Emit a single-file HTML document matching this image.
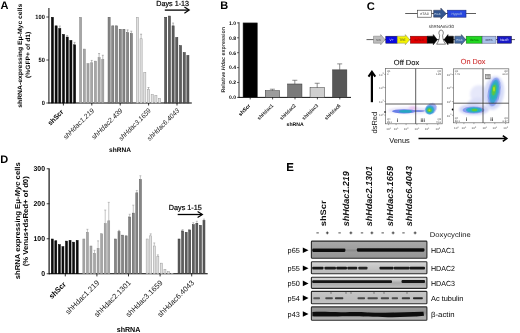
<!DOCTYPE html>
<html><head><meta charset="utf-8"><style>
html,body{margin:0;padding:0;background:#fff;}
svg{display:block;will-change:transform;}
svg text{font-family:"Liberation Sans", sans-serif;text-rendering:geometricPrecision;}
</style></head><body>
<svg width="520" height="333" viewBox="0 0 520 333" font-family="Liberation Sans, sans-serif">
<rect x="0" y="0" width="520" height="333" fill="#fff"/>
<text x="0.60" y="8.90" font-size="11" fill="#000" font-weight="bold" font-style="normal" text-anchor="start" >A</text>
<g transform="translate(21.80,55.80) rotate(-90)"><text x="0" y="0" font-size="6.3" fill="#000" font-weight="bold" font-style="normal" text-anchor="middle" textLength="104" lengthAdjust="spacingAndGlyphs">shRNA-expressing Eμ-Myc cells</text></g>
<g transform="translate(30.00,54.90) rotate(-90)"><text x="0" y="0" font-size="6.3" fill="#000" font-weight="bold" font-style="normal" text-anchor="middle" textLength="46.3" lengthAdjust="spacingAndGlyphs">(%GFP+ of d1)</text></g>
<line x1="48.90" y1="8.00" x2="48.90" y2="103.50" stroke="#222" stroke-width="1.1" />
<line x1="48.50" y1="103.00" x2="191.80" y2="103.00" stroke="#000" stroke-width="1.15" />
<line x1="46.30" y1="17.00" x2="49.00" y2="17.00" stroke="#222" stroke-width="0.8" />
<text x="44.80" y="19.20" font-size="6.2" fill="#000" font-weight="bold" font-style="normal" text-anchor="end"  textLength="9.45" lengthAdjust="spacingAndGlyphs">100</text>
<line x1="46.30" y1="60.00" x2="49.00" y2="60.00" stroke="#222" stroke-width="0.8" />
<text x="44.80" y="62.20" font-size="6.2" fill="#000" font-weight="bold" font-style="normal" text-anchor="end"  textLength="6.3" lengthAdjust="spacingAndGlyphs">50</text>
<line x1="46.30" y1="103.00" x2="49.00" y2="103.00" stroke="#222" stroke-width="0.8" />
<text x="44.80" y="105.20" font-size="6.2" fill="#000" font-weight="bold" font-style="normal" text-anchor="end"  textLength="3.15" lengthAdjust="spacingAndGlyphs">0</text>
<rect x="51.35" y="17.25" width="2.10" height="85.75" fill="#0c0c0c" stroke="#000" stroke-width="0.5"/>
<rect x="55.05" y="25.85" width="2.10" height="77.15" fill="#0c0c0c" stroke="#000" stroke-width="0.5"/>
<rect x="58.75" y="28.43" width="2.10" height="74.57" fill="#0c0c0c" stroke="#000" stroke-width="0.5"/>
<line x1="59.80" y1="26.03" x2="59.80" y2="28.18" stroke="#777" stroke-width="0.5" />
<line x1="58.80" y1="26.03" x2="60.80" y2="26.03" stroke="#777" stroke-width="0.5" />
<rect x="62.45" y="34.45" width="2.10" height="68.55" fill="#0c0c0c" stroke="#000" stroke-width="0.5"/>
<rect x="66.15" y="37.03" width="2.10" height="65.97" fill="#0c0c0c" stroke="#000" stroke-width="0.5"/>
<line x1="67.20" y1="35.49" x2="67.20" y2="36.78" stroke="#777" stroke-width="0.5" />
<line x1="66.20" y1="35.49" x2="68.20" y2="35.49" stroke="#777" stroke-width="0.5" />
<rect x="69.85" y="40.47" width="2.10" height="62.53" fill="#0c0c0c" stroke="#000" stroke-width="0.5"/>
<rect x="73.55" y="44.77" width="2.10" height="58.23" fill="#0c0c0c" stroke="#000" stroke-width="0.5"/>
<line x1="74.60" y1="42.37" x2="74.60" y2="44.52" stroke="#777" stroke-width="0.5" />
<line x1="73.60" y1="42.37" x2="75.60" y2="42.37" stroke="#777" stroke-width="0.5" />
<rect x="79.55" y="17.25" width="2.10" height="85.75" fill="#a6a6a6" stroke="#888" stroke-width="0.5"/>
<rect x="83.25" y="49.07" width="2.10" height="53.93" fill="#a6a6a6" stroke="#888" stroke-width="0.5"/>
<rect x="86.95" y="63.69" width="2.10" height="39.31" fill="#a6a6a6" stroke="#888" stroke-width="0.5"/>
<rect x="90.65" y="62.83" width="2.10" height="40.17" fill="#a6a6a6" stroke="#888" stroke-width="0.5"/>
<line x1="91.70" y1="60.43" x2="91.70" y2="62.58" stroke="#777" stroke-width="0.5" />
<line x1="90.70" y1="60.43" x2="92.70" y2="60.43" stroke="#777" stroke-width="0.5" />
<rect x="94.35" y="61.11" width="2.10" height="41.89" fill="#a6a6a6" stroke="#888" stroke-width="0.5"/>
<rect x="98.05" y="57.67" width="2.10" height="45.33" fill="#a6a6a6" stroke="#888" stroke-width="0.5"/>
<line x1="99.10" y1="53.55" x2="99.10" y2="57.42" stroke="#777" stroke-width="0.5" />
<line x1="98.10" y1="53.55" x2="100.10" y2="53.55" stroke="#777" stroke-width="0.5" />
<rect x="101.75" y="59.39" width="2.10" height="43.61" fill="#a6a6a6" stroke="#888" stroke-width="0.5"/>
<line x1="102.80" y1="55.27" x2="102.80" y2="59.14" stroke="#777" stroke-width="0.5" />
<line x1="101.80" y1="55.27" x2="103.80" y2="55.27" stroke="#777" stroke-width="0.5" />
<rect x="108.05" y="17.25" width="2.10" height="85.75" fill="#888888" stroke="#585858" stroke-width="0.5"/>
<rect x="111.75" y="25.85" width="2.10" height="77.15" fill="#888888" stroke="#585858" stroke-width="0.5"/>
<rect x="115.45" y="25.85" width="2.10" height="77.15" fill="#888888" stroke="#585858" stroke-width="0.5"/>
<rect x="119.15" y="29.29" width="2.10" height="73.71" fill="#888888" stroke="#585858" stroke-width="0.5"/>
<rect x="122.85" y="29.29" width="2.10" height="73.71" fill="#888888" stroke="#585858" stroke-width="0.5"/>
<rect x="126.55" y="32.73" width="2.10" height="70.27" fill="#888888" stroke="#585858" stroke-width="0.5"/>
<line x1="127.60" y1="29.90" x2="127.60" y2="32.48" stroke="#777" stroke-width="0.5" />
<line x1="126.60" y1="29.90" x2="128.60" y2="29.90" stroke="#777" stroke-width="0.5" />
<rect x="130.25" y="33.59" width="2.10" height="69.41" fill="#888888" stroke="#585858" stroke-width="0.5"/>
<line x1="131.30" y1="31.19" x2="131.30" y2="33.34" stroke="#777" stroke-width="0.5" />
<line x1="130.30" y1="31.19" x2="132.30" y2="31.19" stroke="#777" stroke-width="0.5" />
<rect x="136.35" y="17.25" width="2.10" height="85.75" fill="#e0e0e0" stroke="#9a9a9a" stroke-width="0.5"/>
<rect x="140.05" y="38.75" width="2.10" height="64.25" fill="#e0e0e0" stroke="#9a9a9a" stroke-width="0.5"/>
<line x1="141.10" y1="34.20" x2="141.10" y2="38.50" stroke="#777" stroke-width="0.5" />
<line x1="140.10" y1="34.20" x2="142.10" y2="34.20" stroke="#777" stroke-width="0.5" />
<rect x="143.75" y="72.29" width="2.10" height="30.71" fill="#e0e0e0" stroke="#9a9a9a" stroke-width="0.5"/>
<rect x="147.45" y="89.49" width="2.10" height="13.51" fill="#e0e0e0" stroke="#9a9a9a" stroke-width="0.5"/>
<line x1="148.50" y1="87.52" x2="148.50" y2="89.24" stroke="#777" stroke-width="0.5" />
<line x1="147.50" y1="87.52" x2="149.50" y2="87.52" stroke="#777" stroke-width="0.5" />
<rect x="151.15" y="94.65" width="2.10" height="8.35" fill="#e0e0e0" stroke="#9a9a9a" stroke-width="0.5"/>
<rect x="154.85" y="95.51" width="2.10" height="7.49" fill="#e0e0e0" stroke="#9a9a9a" stroke-width="0.5"/>
<rect x="158.55" y="98.35" width="2.10" height="4.65" fill="#e0e0e0" stroke="#9a9a9a" stroke-width="0.5"/>
<rect x="164.65" y="17.25" width="2.10" height="85.75" fill="#5e5e5e" stroke="#333" stroke-width="0.5"/>
<rect x="168.35" y="16.05" width="2.10" height="86.95" fill="#5e5e5e" stroke="#333" stroke-width="0.5"/>
<rect x="172.05" y="25.85" width="2.10" height="77.15" fill="#5e5e5e" stroke="#333" stroke-width="0.5"/>
<line x1="173.10" y1="23.02" x2="173.10" y2="25.60" stroke="#777" stroke-width="0.5" />
<line x1="172.10" y1="23.02" x2="174.10" y2="23.02" stroke="#777" stroke-width="0.5" />
<rect x="175.75" y="37.46" width="2.10" height="65.54" fill="#5e5e5e" stroke="#333" stroke-width="0.5"/>
<rect x="179.45" y="45.63" width="2.10" height="57.37" fill="#5e5e5e" stroke="#333" stroke-width="0.5"/>
<rect x="183.15" y="52.51" width="2.10" height="50.49" fill="#5e5e5e" stroke="#333" stroke-width="0.5"/>
<rect x="186.85" y="55.43" width="2.10" height="47.57" fill="#5e5e5e" stroke="#333" stroke-width="0.5"/>
<line x1="63.40" y1="103.00" x2="63.40" y2="105.50" stroke="#000" stroke-width="0.8" />
<g transform="translate(63.90,112.50) rotate(-45)"><text x="0" y="0" font-size="7" fill="#000" font-weight="bold" font-style="normal" text-anchor="end" textLength="18.8" lengthAdjust="spacingAndGlyphs">shScr</text></g>
<line x1="91.80" y1="103.00" x2="91.80" y2="105.50" stroke="#000" stroke-width="0.8" />
<g transform="translate(94.60,111.20) rotate(-45)"><text x="0" y="0" font-size="7" fill="#222" font-weight="normal" font-style="italic" text-anchor="end" textLength="40.5" lengthAdjust="spacingAndGlyphs">shHdac1.219</text></g>
<line x1="120.20" y1="103.00" x2="120.20" y2="105.50" stroke="#000" stroke-width="0.8" />
<g transform="translate(123.00,111.20) rotate(-45)"><text x="0" y="0" font-size="7" fill="#222" font-weight="normal" font-style="italic" text-anchor="end" textLength="40.5" lengthAdjust="spacingAndGlyphs">shHdac2.439</text></g>
<line x1="148.60" y1="103.00" x2="148.60" y2="105.50" stroke="#000" stroke-width="0.8" />
<g transform="translate(151.40,111.20) rotate(-45)"><text x="0" y="0" font-size="7" fill="#222" font-weight="normal" font-style="italic" text-anchor="end" textLength="42.4" lengthAdjust="spacingAndGlyphs">shHdac3.1659</text></g>
<line x1="177.00" y1="103.00" x2="177.00" y2="105.50" stroke="#000" stroke-width="0.8" />
<g transform="translate(179.80,111.20) rotate(-45)"><text x="0" y="0" font-size="7" fill="#222" font-weight="normal" font-style="italic" text-anchor="end" textLength="42.4" lengthAdjust="spacingAndGlyphs">shHdac6.4043</text></g>
<text x="120.05" y="152.00" font-size="6.6" fill="#000" font-weight="bold" font-style="normal" text-anchor="middle"  textLength="21.9" lengthAdjust="spacingAndGlyphs">shRNA</text>
<text x="156.30" y="5.90" font-size="7.4" fill="#000" font-weight="normal" font-style="normal" text-anchor="start" stroke="#000" stroke-width="0.2" textLength="32.8" lengthAdjust="spacingAndGlyphs">Days 1-13</text>
<line x1="164.80" y1="10.10" x2="188.60" y2="10.10" stroke="#000" stroke-width="1.3" />
<polyline points="184.4,7.0 189.2,10.1 184.4,13.2" fill="none" stroke="#000" stroke-width="1.2"/>
<text x="220.30" y="9.10" font-size="11" fill="#000" font-weight="bold" font-style="normal" text-anchor="start" >B</text>
<g transform="translate(224.60,59.70) rotate(-90)"><text x="0" y="0" font-size="5.4" fill="#333" font-weight="bold" font-style="normal" text-anchor="middle" textLength="65.8" lengthAdjust="spacingAndGlyphs">Relative <tspan font-style="italic">Hdac</tspan> expression</text></g>
<line x1="239.00" y1="22.20" x2="239.00" y2="97.90" stroke="#333" stroke-width="1" />
<line x1="238.50" y1="97.40" x2="351.00" y2="97.40" stroke="#111" stroke-width="1" />
<line x1="237.00" y1="22.90" x2="239.00" y2="22.90" stroke="#222" stroke-width="0.7" />
<text x="236.10" y="24.70" font-size="5.1" fill="#000" font-weight="bold" font-style="normal" text-anchor="end"  textLength="7.0" lengthAdjust="spacingAndGlyphs">1.0</text>
<line x1="237.00" y1="37.80" x2="239.00" y2="37.80" stroke="#222" stroke-width="0.7" />
<text x="236.10" y="39.60" font-size="5.1" fill="#000" font-weight="bold" font-style="normal" text-anchor="end"  textLength="7.0" lengthAdjust="spacingAndGlyphs">0.8</text>
<line x1="237.00" y1="52.70" x2="239.00" y2="52.70" stroke="#222" stroke-width="0.7" />
<text x="236.10" y="54.50" font-size="5.1" fill="#000" font-weight="bold" font-style="normal" text-anchor="end"  textLength="7.0" lengthAdjust="spacingAndGlyphs">0.6</text>
<line x1="237.00" y1="67.60" x2="239.00" y2="67.60" stroke="#222" stroke-width="0.7" />
<text x="236.10" y="69.40" font-size="5.1" fill="#000" font-weight="bold" font-style="normal" text-anchor="end"  textLength="7.0" lengthAdjust="spacingAndGlyphs">0.4</text>
<line x1="237.00" y1="82.50" x2="239.00" y2="82.50" stroke="#222" stroke-width="0.7" />
<text x="236.10" y="84.30" font-size="5.1" fill="#000" font-weight="bold" font-style="normal" text-anchor="end"  textLength="7.0" lengthAdjust="spacingAndGlyphs">0.2</text>
<line x1="237.00" y1="97.40" x2="239.00" y2="97.40" stroke="#222" stroke-width="0.7" />
<text x="236.10" y="99.20" font-size="5.1" fill="#000" font-weight="bold" font-style="normal" text-anchor="end"  textLength="7.0" lengthAdjust="spacingAndGlyphs">0.0</text>
<rect x="243.05" y="22.90" width="14.30" height="74.50" fill="#000" stroke="#333" stroke-width="0.5"/>
<rect x="265.25" y="90.70" width="14.30" height="6.70" fill="#9c9c9c" stroke="#333" stroke-width="0.5"/>
<line x1="272.40" y1="89.21" x2="272.40" y2="90.70" stroke="#444" stroke-width="0.6" />
<line x1="269.90" y1="89.21" x2="274.90" y2="89.21" stroke="#444" stroke-width="0.6" />
<rect x="287.65" y="83.99" width="14.30" height="13.41" fill="#7a7a7a" stroke="#333" stroke-width="0.5"/>
<line x1="294.80" y1="80.27" x2="294.80" y2="83.99" stroke="#444" stroke-width="0.6" />
<line x1="292.30" y1="80.27" x2="297.30" y2="80.27" stroke="#444" stroke-width="0.6" />
<rect x="310.05" y="87.72" width="14.30" height="9.69" fill="#cfcfcf" stroke="#333" stroke-width="0.5"/>
<line x1="317.20" y1="83.25" x2="317.20" y2="87.72" stroke="#444" stroke-width="0.6" />
<line x1="314.70" y1="83.25" x2="319.70" y2="83.25" stroke="#444" stroke-width="0.6" />
<rect x="332.55" y="69.84" width="14.30" height="27.56" fill="#575757" stroke="#333" stroke-width="0.5"/>
<line x1="339.70" y1="63.88" x2="339.70" y2="69.84" stroke="#444" stroke-width="0.6" />
<line x1="337.20" y1="63.88" x2="342.20" y2="63.88" stroke="#444" stroke-width="0.6" />
<line x1="250.20" y1="97.40" x2="250.20" y2="99.40" stroke="#000" stroke-width="0.7" />
<g transform="translate(250.80,106.00) rotate(-45)"><text x="0" y="0" font-size="5.2" fill="#000" font-weight="bold" font-style="normal" text-anchor="end" textLength="14.7" lengthAdjust="spacingAndGlyphs">shScr</text></g>
<line x1="272.60" y1="97.40" x2="272.60" y2="99.40" stroke="#000" stroke-width="0.7" />
<g transform="translate(273.80,106.00) rotate(-45)"><text x="0" y="0" font-size="5.3" fill="#333" font-weight="bold" font-style="normal" text-anchor="end" textLength="20.5" lengthAdjust="spacingAndGlyphs">shHdac1</text></g>
<line x1="295.00" y1="97.40" x2="295.00" y2="99.40" stroke="#000" stroke-width="0.7" />
<g transform="translate(296.20,106.00) rotate(-45)"><text x="0" y="0" font-size="5.3" fill="#333" font-weight="bold" font-style="normal" text-anchor="end" textLength="20.5" lengthAdjust="spacingAndGlyphs">shHdac2</text></g>
<line x1="317.40" y1="97.40" x2="317.40" y2="99.40" stroke="#000" stroke-width="0.7" />
<g transform="translate(318.60,106.00) rotate(-45)"><text x="0" y="0" font-size="5.3" fill="#333" font-weight="bold" font-style="normal" text-anchor="end" textLength="20.5" lengthAdjust="spacingAndGlyphs">shHdac3</text></g>
<line x1="339.80" y1="97.40" x2="339.80" y2="99.40" stroke="#000" stroke-width="0.7" />
<g transform="translate(341.00,106.00) rotate(-45)"><text x="0" y="0" font-size="5.3" fill="#333" font-weight="bold" font-style="normal" text-anchor="end" textLength="20.5" lengthAdjust="spacingAndGlyphs">shHdac6</text></g>
<text x="295.15" y="126.30" font-size="5.1" fill="#000" font-weight="bold" font-style="normal" text-anchor="middle"  textLength="17.1" lengthAdjust="spacingAndGlyphs">shRNA</text>
<text x="366.80" y="9.60" font-size="11.2" fill="#000" font-weight="bold" font-style="normal" text-anchor="start" >C</text>
<line x1="405.20" y1="13.50" x2="476.00" y2="13.50" stroke="#333" stroke-width="0.8" />
<rect x="417.30" y="10.20" width="14.20" height="7.00" fill="#fff" stroke="#333" stroke-width="0.6"/>
<text x="424.40" y="15.10" font-size="3.6" fill="#333" font-weight="normal" font-style="normal" text-anchor="middle" >rtTA3</text>
<polygon points="433.6,10.2 440.8,10.2 440.8,8.0 446.4,13.7 440.8,19.2 440.8,17.2 433.6,17.2" fill="#33558f" stroke="#223" stroke-width="0.4"/>
<text x="437.50" y="15.00" font-size="3" fill="#cde" font-weight="normal" font-style="normal" text-anchor="middle" >PGK</text>
<rect x="447.60" y="10.20" width="18.40" height="7.00" fill="#2848e0" stroke="#1a2a80" stroke-width="0.6"/>
<text x="456.80" y="15.10" font-size="3.2" fill="#bcd" font-weight="normal" font-style="normal" text-anchor="middle" >HygroR</text>
<line x1="366.50" y1="39.60" x2="515.00" y2="39.60" stroke="#333" stroke-width="0.8" />
<polygon points="373.5,36.2 380.7,36.2 380.7,34.6 385.2,39.7 380.7,44.800000000000004 380.7,43.2 373.5,43.2" fill="#bdbdbd" stroke="#777" stroke-width="0.5"/>
<text x="378.50" y="41.00" font-size="3" fill="#555" font-weight="normal" font-style="normal" text-anchor="middle" >SIN</text>
<rect x="385.80" y="36.20" width="11.50" height="7.00" fill="#0a0ae0" stroke="#113" stroke-width="0.5"/>
<text x="391.50" y="41.00" font-size="3.2" fill="#eef" font-weight="normal" font-style="normal" text-anchor="middle" >V+</text>
<polygon points="397.3,36.2 405.3,36.2 405.3,34.6 409.8,39.7 405.3,44.800000000000004 405.3,43.2 397.3,43.2" fill="#f4f400" stroke="#886" stroke-width="0.5"/>
<text x="402.50" y="41.00" font-size="3.2" fill="#443" font-weight="normal" font-style="normal" text-anchor="middle" >TRE</text>
<rect x="410.40" y="36.20" width="16.90" height="7.00" fill="#e00000" stroke="#600" stroke-width="0.5"/>
<text x="418.80" y="41.00" font-size="3.2" fill="#800" font-weight="normal" font-style="normal" text-anchor="middle" >dsRed</text>
<path d="M436.6,44.2 C438.6,41.5 439.6,38.5 439.6,35.2 C438.3,33.6 438.7,30.0 441.1,30.0 C443.5,30.0 443.9,33.6 442.6,35.2 C442.6,38.5 443.6,41.5 445.6,44.2 Z" fill="#fff" stroke="#222" stroke-width="0.55"/>
<polygon points="427.3,36.2 433.3,36.2 433.3,34.6 437.3,39.7 433.3,44.800000000000004 433.3,43.2 427.3,43.2" fill="#050505" stroke="#000" stroke-width="0.5"/>
<polygon points="453.4,36.2 448.0,36.2 448.0,34.6 444.0,39.7 448.0,44.800000000000004 448.0,43.2 453.4,43.2" fill="#050505" stroke="#000" stroke-width="0.5"/>
<text x="441.40" y="27.80" font-size="4.5" fill="#222" font-weight="normal" font-style="normal" text-anchor="middle"  textLength="25.2" lengthAdjust="spacingAndGlyphs">shRNAmir30</text>
<polygon points="454.8,36.2 461.4,36.2 461.4,34.6 465.9,39.7 461.4,44.800000000000004 461.4,43.2 454.8,43.2" fill="#4a6fa8" stroke="#234" stroke-width="0.5"/>
<text x="459.50" y="41.00" font-size="3" fill="#cde" font-weight="normal" font-style="normal" text-anchor="middle" >PGK</text>
<rect x="466.20" y="36.20" width="15.90" height="7.00" fill="#22d822" stroke="#161" stroke-width="0.5"/>
<text x="474.10" y="41.00" font-size="3.2" fill="#060" font-weight="normal" font-style="normal" text-anchor="middle" >Venus</text>
<rect x="482.10" y="36.20" width="13.90" height="7.00" fill="#a8c0e8" stroke="#557" stroke-width="0.5"/>
<text x="489.00" y="41.00" font-size="3" fill="#335" font-weight="normal" font-style="normal" text-anchor="middle" >IRES</text>
<rect x="497.30" y="36.20" width="14.20" height="7.00" fill="#1818c8" stroke="#113" stroke-width="0.5"/>
<text x="504.40" y="41.00" font-size="3.2" fill="#eef" font-weight="normal" font-style="normal" text-anchor="middle" >NeoR</text>
<text x="406.50" y="65.20" font-size="7.3" fill="#111" font-weight="normal" font-style="normal" text-anchor="middle" stroke="#111" stroke-width="0.12" textLength="25.3" lengthAdjust="spacingAndGlyphs">Off Dox</text>
<text x="473.10" y="64.40" font-size="7.3" fill="#d03434" font-weight="normal" font-style="normal" text-anchor="middle" stroke="#d03434" stroke-width="0.12" textLength="24.6" lengthAdjust="spacingAndGlyphs">On Dox</text>
<defs>
<filter id="bl1" x="-50%" y="-50%" width="200%" height="200%"><feGaussianBlur stdDeviation="1.2"/></filter>
<filter id="bl2" x="-50%" y="-50%" width="200%" height="200%"><feGaussianBlur stdDeviation="0.7"/></filter>
<filter id="bl3" x="-50%" y="-50%" width="200%" height="200%"><feGaussianBlur stdDeviation="0.5"/></filter>
<filter id="bl4" x="-50%" y="-50%" width="200%" height="200%"><feGaussianBlur stdDeviation="0.35"/></filter>
</defs>
<ellipse cx="410" cy="110.5" rx="22" ry="3.2" fill="#e4e0f8" opacity="1" filter="url(#bl1)"/>
<ellipse cx="413" cy="108.2" rx="4" ry="2" fill="#ecc4f0" opacity="1" filter="url(#bl1)"/>
<ellipse cx="404" cy="111.3" rx="12" ry="2.1" fill="#6a80e8" opacity="1" filter="url(#bl2)"/>
<ellipse cx="418" cy="111" rx="7" ry="0.9" fill="#7c8ce4" opacity="1" filter="url(#bl3)"/>
<ellipse cx="405.5" cy="111.4" rx="6.5" ry="1.45" fill="#26a6c2" opacity="1" filter="url(#bl3)"/>
<ellipse cx="431" cy="108.8" rx="6.2" ry="5.0" fill="#a0acf0" opacity="1" filter="url(#bl2)" transform="rotate(-40 431 108.8)"/>
<ellipse cx="429.9" cy="109.9" rx="4.6" ry="4.3" fill="#3aa0d8" opacity="1" filter="url(#bl3)" transform="rotate(-30 429.9 109.9)"/>
<ellipse cx="429.6" cy="110.1" rx="3.3" ry="3.0" fill="#2ab4b0" opacity="1" filter="url(#bl3)"/>
<ellipse cx="429.5" cy="110.2" rx="2.1" ry="1.9" fill="#60c83a" opacity="1" filter="url(#bl3)"/>
<ellipse cx="429.4" cy="110.2" rx="0.9" ry="0.8" fill="#c0e020" opacity="1" filter="url(#bl4)"/>
<circle cx="385.2" cy="112" r="0.9" fill="#000"/>
<rect x="385.6" y="68.6" width="56.599999999999966" height="55.2" fill="none" stroke="#666" stroke-width="0.7"/>
<line x1="415.70" y1="68.60" x2="415.70" y2="123.80" stroke="#333" stroke-width="0.8" />
<line x1="385.60" y1="104.00" x2="442.20" y2="104.00" stroke="#333" stroke-width="0.8" />
<line x1="384.30" y1="74.40" x2="385.60" y2="74.40" stroke="#555" stroke-width="0.5" />
<text x="383.60" y="75.60" font-size="3" fill="#555" font-weight="normal" font-style="normal" text-anchor="end" >10<tspan font-size="2.2" dy="-1.2">3</tspan></text>
<line x1="384.30" y1="87.60" x2="385.60" y2="87.60" stroke="#555" stroke-width="0.5" />
<text x="383.60" y="88.80" font-size="3" fill="#555" font-weight="normal" font-style="normal" text-anchor="end" >10<tspan font-size="2.2" dy="-1.2">2</tspan></text>
<line x1="384.30" y1="101.40" x2="385.60" y2="101.40" stroke="#555" stroke-width="0.5" />
<text x="383.60" y="102.60" font-size="3" fill="#555" font-weight="normal" font-style="normal" text-anchor="end" >10<tspan font-size="2.2" dy="-1.2">1</tspan></text>
<line x1="384.30" y1="115.10" x2="385.60" y2="115.10" stroke="#555" stroke-width="0.5" />
<text x="383.60" y="116.30" font-size="3" fill="#555" font-weight="normal" font-style="normal" text-anchor="end" >10<tspan font-size="2.2" dy="-1.2">0</tspan></text>
<line x1="388.60" y1="123.80" x2="388.60" y2="125.10" stroke="#555" stroke-width="0.5" />
<text x="388.60" y="130.40" font-size="3" fill="#555" font-weight="normal" font-style="normal" text-anchor="middle" >10<tspan font-size="2.2" dy="-1.2">0</tspan></text>
<line x1="396.10" y1="123.80" x2="396.10" y2="125.10" stroke="#555" stroke-width="0.5" />
<text x="396.10" y="130.40" font-size="3" fill="#555" font-weight="normal" font-style="normal" text-anchor="middle" >10<tspan font-size="2.2" dy="-1.2">1</tspan></text>
<line x1="406.10" y1="123.80" x2="406.10" y2="125.10" stroke="#555" stroke-width="0.5" />
<text x="406.10" y="130.40" font-size="3" fill="#555" font-weight="normal" font-style="normal" text-anchor="middle" >10<tspan font-size="2.2" dy="-1.2">2</tspan></text>
<line x1="416.90" y1="123.80" x2="416.90" y2="125.10" stroke="#555" stroke-width="0.5" />
<text x="416.90" y="130.40" font-size="3" fill="#555" font-weight="normal" font-style="normal" text-anchor="middle" >10<tspan font-size="2.2" dy="-1.2">0</tspan></text>
<line x1="427.00" y1="123.80" x2="427.00" y2="125.10" stroke="#555" stroke-width="0.5" />
<text x="427.00" y="130.40" font-size="3" fill="#555" font-weight="normal" font-style="normal" text-anchor="middle" >10<tspan font-size="2.2" dy="-1.2">1</tspan></text>
<line x1="437.80" y1="123.80" x2="437.80" y2="125.10" stroke="#555" stroke-width="0.5" />
<text x="437.80" y="130.40" font-size="3" fill="#555" font-weight="normal" font-style="normal" text-anchor="middle" >10<tspan font-size="2.2" dy="-1.2">2</tspan></text>
<text x="387.00" y="72.00" font-size="2.6" fill="#444" font-weight="normal" font-style="normal" text-anchor="start" >Q1</text>
<text x="387.00" y="75.20" font-size="2.6" fill="#444" font-weight="normal" font-style="normal" text-anchor="start" >0</text>
<text x="441.00" y="72.00" font-size="2.6" fill="#444" font-weight="normal" font-style="normal" text-anchor="end" >Q2</text>
<text x="441.00" y="75.20" font-size="2.6" fill="#444" font-weight="normal" font-style="normal" text-anchor="end" >1.25</text>
<text x="387.00" y="119.60" font-size="2.6" fill="#444" font-weight="normal" font-style="normal" text-anchor="start" >Q4</text>
<text x="387.00" y="122.60" font-size="2.6" fill="#444" font-weight="normal" font-style="normal" text-anchor="start" >28.1</text>
<text x="441.00" y="119.60" font-size="2.6" fill="#444" font-weight="normal" font-style="normal" text-anchor="end" >Q3</text>
<text x="441.00" y="122.60" font-size="2.6" fill="#444" font-weight="normal" font-style="normal" text-anchor="end" >70.6</text>
<ellipse cx="479" cy="94" rx="9" ry="9" fill="#e6e8fa" opacity="1" filter="url(#bl1)" transform="rotate(-30 479 94)"/>
<ellipse cx="475" cy="102" rx="8" ry="4" fill="#dde0f8" opacity="1" filter="url(#bl1)" transform="rotate(-20 475 102)"/>
<ellipse cx="494" cy="93" rx="10" ry="17" fill="#d4daf8" opacity="1" filter="url(#bl1)" transform="rotate(8 494 93)"/>
<ellipse cx="474" cy="109.5" rx="15" ry="5.5" fill="#d0d4f6" opacity="1" filter="url(#bl1)"/>
<ellipse cx="494.2" cy="92" rx="6.2" ry="14.5" fill="#8ea0ee" opacity="1" filter="url(#bl2)" transform="rotate(10 494.2 92)"/>
<ellipse cx="494.2" cy="91.5" rx="4.6" ry="12" fill="#3aa4d4" opacity="1" filter="url(#bl2)" transform="rotate(10 494.2 91.5)"/>
<ellipse cx="494.2" cy="91" rx="3.2" ry="9" fill="#2ab4b0" opacity="1" filter="url(#bl3)" transform="rotate(10 494.2 91)"/>
<ellipse cx="494" cy="90" rx="2.0" ry="5.5" fill="#5cc83c" opacity="1" filter="url(#bl3)" transform="rotate(8 494 90)"/>
<ellipse cx="494" cy="89" rx="0.9" ry="2.5" fill="#b8e020" opacity="1" filter="url(#bl4)"/>
<ellipse cx="473.5" cy="110" rx="11" ry="3.6" fill="#8c9cee" opacity="1" filter="url(#bl2)"/>
<ellipse cx="474" cy="110" rx="8" ry="2.7" fill="#32a8cc" opacity="1" filter="url(#bl3)"/>
<ellipse cx="474.2" cy="110" rx="5" ry="1.9" fill="#2ab4b0" opacity="1" filter="url(#bl3)"/>
<ellipse cx="474.5" cy="110" rx="2.8" ry="1.3" fill="#5cc83c" opacity="1" filter="url(#bl3)"/>
<circle cx="452.6" cy="109.5" r="0.9" fill="#000"/>
<rect x="453.4" y="68.8" width="55.400000000000034" height="54.0" fill="none" stroke="#666" stroke-width="0.7"/>
<line x1="483.00" y1="68.80" x2="483.00" y2="122.80" stroke="#333" stroke-width="0.8" />
<line x1="453.40" y1="103.20" x2="508.80" y2="103.20" stroke="#333" stroke-width="0.8" />
<line x1="452.10" y1="74.60" x2="453.40" y2="74.60" stroke="#555" stroke-width="0.5" />
<text x="451.40" y="75.80" font-size="3" fill="#555" font-weight="normal" font-style="normal" text-anchor="end" >10<tspan font-size="2.2" dy="-1.2">3</tspan></text>
<line x1="452.10" y1="87.80" x2="453.40" y2="87.80" stroke="#555" stroke-width="0.5" />
<text x="451.40" y="89.00" font-size="3" fill="#555" font-weight="normal" font-style="normal" text-anchor="end" >10<tspan font-size="2.2" dy="-1.2">2</tspan></text>
<line x1="452.10" y1="101.60" x2="453.40" y2="101.60" stroke="#555" stroke-width="0.5" />
<text x="451.40" y="102.80" font-size="3" fill="#555" font-weight="normal" font-style="normal" text-anchor="end" >10<tspan font-size="2.2" dy="-1.2">1</tspan></text>
<line x1="452.10" y1="115.30" x2="453.40" y2="115.30" stroke="#555" stroke-width="0.5" />
<text x="451.40" y="116.50" font-size="3" fill="#555" font-weight="normal" font-style="normal" text-anchor="end" >10<tspan font-size="2.2" dy="-1.2">0</tspan></text>
<line x1="456.40" y1="122.80" x2="456.40" y2="124.10" stroke="#555" stroke-width="0.5" />
<text x="456.40" y="129.40" font-size="3" fill="#555" font-weight="normal" font-style="normal" text-anchor="middle" >10<tspan font-size="2.2" dy="-1.2">0</tspan></text>
<line x1="463.90" y1="122.80" x2="463.90" y2="124.10" stroke="#555" stroke-width="0.5" />
<text x="463.90" y="129.40" font-size="3" fill="#555" font-weight="normal" font-style="normal" text-anchor="middle" >10<tspan font-size="2.2" dy="-1.2">1</tspan></text>
<line x1="473.90" y1="122.80" x2="473.90" y2="124.10" stroke="#555" stroke-width="0.5" />
<text x="473.90" y="129.40" font-size="3" fill="#555" font-weight="normal" font-style="normal" text-anchor="middle" >10<tspan font-size="2.2" dy="-1.2">2</tspan></text>
<line x1="484.70" y1="122.80" x2="484.70" y2="124.10" stroke="#555" stroke-width="0.5" />
<text x="484.70" y="129.40" font-size="3" fill="#555" font-weight="normal" font-style="normal" text-anchor="middle" >10<tspan font-size="2.2" dy="-1.2">0</tspan></text>
<line x1="494.80" y1="122.80" x2="494.80" y2="124.10" stroke="#555" stroke-width="0.5" />
<text x="494.80" y="129.40" font-size="3" fill="#555" font-weight="normal" font-style="normal" text-anchor="middle" >10<tspan font-size="2.2" dy="-1.2">1</tspan></text>
<line x1="505.60" y1="122.80" x2="505.60" y2="124.10" stroke="#555" stroke-width="0.5" />
<text x="505.60" y="129.40" font-size="3" fill="#555" font-weight="normal" font-style="normal" text-anchor="middle" >10<tspan font-size="2.2" dy="-1.2">2</tspan></text>
<text x="454.80" y="72.20" font-size="2.6" fill="#444" font-weight="normal" font-style="normal" text-anchor="start" >Q1</text>
<text x="454.80" y="75.40" font-size="2.6" fill="#444" font-weight="normal" font-style="normal" text-anchor="start" >4.76</text>
<text x="507.60" y="72.20" font-size="2.6" fill="#444" font-weight="normal" font-style="normal" text-anchor="end" >Q2</text>
<text x="507.60" y="75.40" font-size="2.6" fill="#444" font-weight="normal" font-style="normal" text-anchor="end" >60.2</text>
<text x="454.80" y="118.60" font-size="2.6" fill="#444" font-weight="normal" font-style="normal" text-anchor="start" >Q4</text>
<text x="454.80" y="121.60" font-size="2.6" fill="#444" font-weight="normal" font-style="normal" text-anchor="start" >28.1</text>
<text x="507.60" y="118.60" font-size="2.6" fill="#444" font-weight="normal" font-style="normal" text-anchor="end" >Q3</text>
<text x="507.60" y="121.60" font-size="2.6" fill="#444" font-weight="normal" font-style="normal" text-anchor="end" >6.97</text>
<text x="397.50" y="121.50" font-size="5.2" fill="#333" font-weight="bold" font-style="normal" text-anchor="middle" >i</text>
<text x="422.70" y="121.50" font-size="5.2" fill="#333" font-weight="bold" font-style="normal" text-anchor="middle" >iii</text>
<text x="466.40" y="120.80" font-size="5.2" fill="#333" font-weight="bold" font-style="normal" text-anchor="middle" >i</text>
<text x="491.80" y="120.80" font-size="5.2" fill="#333" font-weight="bold" font-style="normal" text-anchor="middle" >ii</text>
<rect x="485.40" y="74.20" width="4.80" height="4.80" fill="#888" stroke="#555" stroke-width="0.3"/>
<text x="487.80" y="78.40" font-size="4.4" fill="#eee" font-weight="bold" font-style="normal" text-anchor="middle" >iii</text>
<line x1="371.90" y1="102.20" x2="371.90" y2="73.00" stroke="#000" stroke-width="2.2" />
<polyline points="368.5,76.6 371.9,71.8 375.3,76.6" fill="none" stroke="#000" stroke-width="2"/>
<g transform="translate(376.60,122.70) rotate(-90)"><text x="0" y="0" font-size="7.4" fill="#111" font-weight="normal" font-style="normal" text-anchor="middle" textLength="21.6" lengthAdjust="spacingAndGlyphs">dsRed</text></g>
<text x="399.50" y="143.20" font-size="7.4" fill="#111" font-weight="normal" font-style="normal" text-anchor="middle"  textLength="20.6" lengthAdjust="spacingAndGlyphs">Venus</text>
<line x1="418.50" y1="138.50" x2="505.50" y2="138.50" stroke="#000" stroke-width="1.6" />
<polyline points="502.8,135.6 506.8,138.5 502.8,141.4" fill="none" stroke="#000" stroke-width="1.6"/>
<text x="0.20" y="162.70" font-size="11" fill="#000" font-weight="bold" font-style="normal" text-anchor="start" >D</text>
<g transform="translate(20.20,220.75) rotate(-90)"><text x="0" y="0" font-size="7.2" fill="#000" font-weight="bold" font-style="normal" text-anchor="middle" textLength="117" lengthAdjust="spacingAndGlyphs">shRNA expressing Eμ-<tspan font-style="italic">Myc</tspan> cells</text></g>
<g transform="translate(27.80,221.30) rotate(-90)"><text x="0" y="0" font-size="7.2" fill="#000" font-weight="bold" font-style="normal" text-anchor="middle" textLength="90" lengthAdjust="spacingAndGlyphs">(% Venus+dsRed+ of d0)</text></g>
<line x1="49.10" y1="168.40" x2="49.10" y2="274.20" stroke="#111" stroke-width="1.2" />
<line x1="49.00" y1="273.75" x2="207.70" y2="273.75" stroke="#000" stroke-width="1.2" />
<line x1="46.70" y1="168.75" x2="49.40" y2="168.75" stroke="#111" stroke-width="0.8" />
<text x="45.00" y="171.35" font-size="7.1" fill="#000" font-weight="bold" font-style="normal" text-anchor="end"  textLength="11.49" lengthAdjust="spacingAndGlyphs">300</text>
<line x1="46.70" y1="203.75" x2="49.40" y2="203.75" stroke="#111" stroke-width="0.8" />
<text x="45.00" y="206.35" font-size="7.1" fill="#000" font-weight="bold" font-style="normal" text-anchor="end"  textLength="11.49" lengthAdjust="spacingAndGlyphs">200</text>
<line x1="46.70" y1="238.75" x2="49.40" y2="238.75" stroke="#111" stroke-width="0.8" />
<text x="45.00" y="241.35" font-size="7.1" fill="#000" font-weight="bold" font-style="normal" text-anchor="end"  textLength="11.49" lengthAdjust="spacingAndGlyphs">100</text>
<line x1="46.70" y1="273.75" x2="49.40" y2="273.75" stroke="#111" stroke-width="0.8" />
<text x="45.00" y="276.35" font-size="7.1" fill="#000" font-weight="bold" font-style="normal" text-anchor="end"  textLength="3.83" lengthAdjust="spacingAndGlyphs">0</text>
<rect x="51.25" y="239.00" width="2.00" height="34.75" fill="#0c0c0c" stroke="#000" stroke-width="0.5"/>
<rect x="54.81" y="240.75" width="2.00" height="33.00" fill="#0c0c0c" stroke="#000" stroke-width="0.5"/>
<rect x="58.37" y="244.60" width="2.00" height="29.15" fill="#0c0c0c" stroke="#000" stroke-width="0.5"/>
<rect x="61.93" y="246.70" width="2.00" height="27.05" fill="#0c0c0c" stroke="#000" stroke-width="0.5"/>
<rect x="65.49" y="241.10" width="2.00" height="32.65" fill="#0c0c0c" stroke="#000" stroke-width="0.5"/>
<rect x="69.05" y="240.40" width="2.00" height="33.35" fill="#0c0c0c" stroke="#000" stroke-width="0.5"/>
<rect x="72.61" y="242.15" width="2.00" height="31.60" fill="#0c0c0c" stroke="#000" stroke-width="0.5"/>
<rect x="76.17" y="240.40" width="2.00" height="33.35" fill="#0c0c0c" stroke="#000" stroke-width="0.5"/>
<rect x="82.85" y="239.00" width="2.00" height="34.75" fill="#a6a6a6" stroke="#888" stroke-width="0.5"/>
<rect x="86.41" y="232.35" width="2.00" height="41.40" fill="#a6a6a6" stroke="#888" stroke-width="0.5"/>
<line x1="87.41" y1="229.30" x2="87.41" y2="232.10" stroke="#8a8a8a" stroke-width="0.5" />
<line x1="86.41" y1="229.30" x2="88.41" y2="229.30" stroke="#8a8a8a" stroke-width="0.5" />
<rect x="89.97" y="246.00" width="2.00" height="27.75" fill="#a6a6a6" stroke="#888" stroke-width="0.5"/>
<rect x="93.53" y="253.35" width="2.00" height="20.40" fill="#a6a6a6" stroke="#888" stroke-width="0.5"/>
<line x1="94.53" y1="250.30" x2="94.53" y2="253.10" stroke="#8a8a8a" stroke-width="0.5" />
<line x1="93.53" y1="250.30" x2="95.53" y2="250.30" stroke="#8a8a8a" stroke-width="0.5" />
<rect x="97.09" y="248.45" width="2.00" height="25.30" fill="#a6a6a6" stroke="#888" stroke-width="0.5"/>
<line x1="98.09" y1="240.85" x2="98.09" y2="248.20" stroke="#8a8a8a" stroke-width="0.5" />
<line x1="97.09" y1="240.85" x2="99.09" y2="240.85" stroke="#8a8a8a" stroke-width="0.5" />
<rect x="100.65" y="233.75" width="2.00" height="40.00" fill="#a6a6a6" stroke="#888" stroke-width="0.5"/>
<rect x="104.21" y="223.60" width="2.00" height="50.15" fill="#a6a6a6" stroke="#888" stroke-width="0.5"/>
<line x1="105.21" y1="210.05" x2="105.21" y2="223.35" stroke="#8a8a8a" stroke-width="0.5" />
<line x1="104.21" y1="210.05" x2="106.21" y2="210.05" stroke="#8a8a8a" stroke-width="0.5" />
<rect x="107.77" y="220.80" width="2.00" height="52.95" fill="#a6a6a6" stroke="#888" stroke-width="0.5"/>
<line x1="108.77" y1="202.35" x2="108.77" y2="220.55" stroke="#8a8a8a" stroke-width="0.5" />
<line x1="107.77" y1="202.35" x2="109.77" y2="202.35" stroke="#8a8a8a" stroke-width="0.5" />
<rect x="114.45" y="239.00" width="2.00" height="34.75" fill="#858585" stroke="#585858" stroke-width="0.5"/>
<rect x="118.01" y="231.65" width="2.00" height="42.10" fill="#858585" stroke="#585858" stroke-width="0.5"/>
<line x1="119.01" y1="230.35" x2="119.01" y2="231.40" stroke="#8a8a8a" stroke-width="0.5" />
<line x1="118.01" y1="230.35" x2="120.01" y2="230.35" stroke="#8a8a8a" stroke-width="0.5" />
<rect x="121.57" y="235.15" width="2.00" height="38.60" fill="#858585" stroke="#585858" stroke-width="0.5"/>
<rect x="125.13" y="235.85" width="2.00" height="37.90" fill="#858585" stroke="#585858" stroke-width="0.5"/>
<rect x="128.69" y="216.95" width="2.00" height="56.80" fill="#858585" stroke="#585858" stroke-width="0.5"/>
<line x1="129.69" y1="214.25" x2="129.69" y2="216.70" stroke="#8a8a8a" stroke-width="0.5" />
<line x1="128.69" y1="214.25" x2="130.69" y2="214.25" stroke="#8a8a8a" stroke-width="0.5" />
<rect x="132.25" y="213.10" width="2.00" height="60.65" fill="#858585" stroke="#585858" stroke-width="0.5"/>
<line x1="133.25" y1="205.15" x2="133.25" y2="212.85" stroke="#8a8a8a" stroke-width="0.5" />
<line x1="132.25" y1="205.15" x2="134.25" y2="205.15" stroke="#8a8a8a" stroke-width="0.5" />
<rect x="135.81" y="192.80" width="2.00" height="80.95" fill="#858585" stroke="#585858" stroke-width="0.5"/>
<line x1="136.81" y1="190.45" x2="136.81" y2="192.55" stroke="#8a8a8a" stroke-width="0.5" />
<line x1="135.81" y1="190.45" x2="137.81" y2="190.45" stroke="#8a8a8a" stroke-width="0.5" />
<rect x="139.37" y="179.50" width="2.00" height="94.25" fill="#858585" stroke="#585858" stroke-width="0.5"/>
<line x1="140.37" y1="175.75" x2="140.37" y2="179.25" stroke="#8a8a8a" stroke-width="0.5" />
<line x1="139.37" y1="175.75" x2="141.37" y2="175.75" stroke="#8a8a8a" stroke-width="0.5" />
<rect x="146.15" y="239.00" width="2.00" height="34.75" fill="#e0e0e0" stroke="#9a9a9a" stroke-width="0.5"/>
<rect x="149.71" y="235.85" width="2.00" height="37.90" fill="#e0e0e0" stroke="#9a9a9a" stroke-width="0.5"/>
<line x1="150.71" y1="233.85" x2="150.71" y2="235.60" stroke="#8a8a8a" stroke-width="0.5" />
<line x1="149.71" y1="233.85" x2="151.71" y2="233.85" stroke="#8a8a8a" stroke-width="0.5" />
<rect x="153.27" y="246.00" width="2.00" height="27.75" fill="#e0e0e0" stroke="#9a9a9a" stroke-width="0.5"/>
<line x1="154.27" y1="242.95" x2="154.27" y2="245.75" stroke="#8a8a8a" stroke-width="0.5" />
<line x1="153.27" y1="242.95" x2="155.27" y2="242.95" stroke="#8a8a8a" stroke-width="0.5" />
<rect x="156.83" y="256.50" width="2.00" height="17.25" fill="#e0e0e0" stroke="#9a9a9a" stroke-width="0.5"/>
<line x1="157.83" y1="254.85" x2="157.83" y2="256.25" stroke="#8a8a8a" stroke-width="0.5" />
<line x1="156.83" y1="254.85" x2="158.83" y2="254.85" stroke="#8a8a8a" stroke-width="0.5" />
<rect x="160.39" y="263.15" width="2.00" height="10.60" fill="#e0e0e0" stroke="#9a9a9a" stroke-width="0.5"/>
<rect x="163.95" y="269.45" width="2.00" height="4.30" fill="#e0e0e0" stroke="#9a9a9a" stroke-width="0.5"/>
<rect x="167.51" y="271.55" width="2.00" height="2.20" fill="#e0e0e0" stroke="#9a9a9a" stroke-width="0.5"/>
<rect x="171.07" y="273.65" width="2.00" height="0.10" fill="#e0e0e0" stroke="#9a9a9a" stroke-width="0.5"/>
<rect x="178.05" y="239.00" width="2.00" height="34.75" fill="#5e5e5e" stroke="#333" stroke-width="0.5"/>
<rect x="181.61" y="230.95" width="2.00" height="42.80" fill="#5e5e5e" stroke="#333" stroke-width="0.5"/>
<line x1="182.61" y1="229.65" x2="182.61" y2="230.70" stroke="#8a8a8a" stroke-width="0.5" />
<line x1="181.61" y1="229.65" x2="183.61" y2="229.65" stroke="#8a8a8a" stroke-width="0.5" />
<rect x="185.17" y="232.35" width="2.00" height="41.40" fill="#5e5e5e" stroke="#333" stroke-width="0.5"/>
<rect x="188.73" y="229.90" width="2.00" height="43.85" fill="#5e5e5e" stroke="#333" stroke-width="0.5"/>
<rect x="192.29" y="224.65" width="2.00" height="49.10" fill="#5e5e5e" stroke="#333" stroke-width="0.5"/>
<line x1="193.29" y1="222.65" x2="193.29" y2="224.40" stroke="#8a8a8a" stroke-width="0.5" />
<line x1="192.29" y1="222.65" x2="194.29" y2="222.65" stroke="#8a8a8a" stroke-width="0.5" />
<rect x="195.85" y="223.25" width="2.00" height="50.50" fill="#5e5e5e" stroke="#333" stroke-width="0.5"/>
<line x1="196.85" y1="221.25" x2="196.85" y2="223.00" stroke="#8a8a8a" stroke-width="0.5" />
<line x1="195.85" y1="221.25" x2="197.85" y2="221.25" stroke="#8a8a8a" stroke-width="0.5" />
<rect x="199.41" y="225.35" width="2.00" height="48.40" fill="#5e5e5e" stroke="#333" stroke-width="0.5"/>
<rect x="202.97" y="220.45" width="2.00" height="53.30" fill="#5e5e5e" stroke="#333" stroke-width="0.5"/>
<line x1="203.97" y1="219.15" x2="203.97" y2="220.20" stroke="#8a8a8a" stroke-width="0.5" />
<line x1="202.97" y1="219.15" x2="204.97" y2="219.15" stroke="#8a8a8a" stroke-width="0.5" />
<line x1="65.30" y1="273.75" x2="65.30" y2="276.40" stroke="#000" stroke-width="0.8" />
<g transform="translate(66.40,285.00) rotate(-45)"><text x="0" y="0" font-size="7.6" fill="#000" font-weight="bold" font-style="normal" text-anchor="end" textLength="20.2" lengthAdjust="spacingAndGlyphs">shScr</text></g>
<line x1="96.90" y1="273.75" x2="96.90" y2="276.40" stroke="#000" stroke-width="0.8" />
<g transform="translate(99.90,283.30) rotate(-45)"><text x="0" y="0" font-size="7.5" fill="#222" font-weight="normal" font-style="normal" text-anchor="end" textLength="44.5" lengthAdjust="spacingAndGlyphs">shHdac1.219</text></g>
<line x1="128.50" y1="273.75" x2="128.50" y2="276.40" stroke="#000" stroke-width="0.8" />
<g transform="translate(131.50,283.30) rotate(-45)"><text x="0" y="0" font-size="7.5" fill="#222" font-weight="normal" font-style="normal" text-anchor="end" textLength="48.5" lengthAdjust="spacingAndGlyphs">shHdac2.1301</text></g>
<line x1="160.10" y1="273.75" x2="160.10" y2="276.40" stroke="#000" stroke-width="0.8" />
<g transform="translate(163.10,283.30) rotate(-45)"><text x="0" y="0" font-size="7.5" fill="#222" font-weight="normal" font-style="normal" text-anchor="end" textLength="48.5" lengthAdjust="spacingAndGlyphs">shHdac3.1659</text></g>
<line x1="191.70" y1="273.75" x2="191.70" y2="276.40" stroke="#000" stroke-width="0.8" />
<g transform="translate(194.70,283.30) rotate(-45)"><text x="0" y="0" font-size="7.5" fill="#222" font-weight="normal" font-style="normal" text-anchor="end" textLength="48.5" lengthAdjust="spacingAndGlyphs">shHdac6.4043</text></g>
<text x="128.55" y="331.50" font-size="7.4" fill="#000" font-weight="bold" font-style="normal" text-anchor="middle"  textLength="23.7" lengthAdjust="spacingAndGlyphs">shRNA</text>
<text x="168.80" y="210.20" font-size="7.4" fill="#000" font-weight="normal" font-style="normal" text-anchor="start" stroke="#000" stroke-width="0.2" textLength="32.9" lengthAdjust="spacingAndGlyphs">Days 1-15</text>
<line x1="177.70" y1="214.50" x2="201.80" y2="214.50" stroke="#000" stroke-width="1.3" />
<polyline points="197.6,211.4 202.4,214.5 197.6,217.6" fill="none" stroke="#000" stroke-width="1.2"/>
<text x="286.30" y="171.30" font-size="11.5" fill="#000" font-weight="bold" font-style="normal" text-anchor="start" >E</text>
<g transform="translate(325.60,226.30) rotate(-90)"><text x="0" y="0" font-size="8.0" fill="#111" font-weight="bold" font-style="normal" text-anchor="start" textLength="25.9" lengthAdjust="spacingAndGlyphs">shScr</text></g>
<g transform="translate(349.30,226.30) rotate(-90)"><text x="0" y="0" font-size="8.8" fill="#111" font-weight="bold" font-style="italic" text-anchor="start" textLength="55.2" lengthAdjust="spacingAndGlyphs">shHdac1.219</text></g>
<g transform="translate(371.80,226.30) rotate(-90)"><text x="0" y="0" font-size="8.8" fill="#111" font-weight="bold" font-style="italic" text-anchor="start" textLength="60.4" lengthAdjust="spacingAndGlyphs">shHdac2.1301</text></g>
<g transform="translate(392.80,226.30) rotate(-90)"><text x="0" y="0" font-size="8.8" fill="#111" font-weight="bold" font-style="italic" text-anchor="start" textLength="60.2" lengthAdjust="spacingAndGlyphs">shHdac3.1659</text></g>
<g transform="translate(412.30,226.30) rotate(-90)"><text x="0" y="0" font-size="8.8" fill="#111" font-weight="bold" font-style="italic" text-anchor="start" textLength="60.2" lengthAdjust="spacingAndGlyphs">shHdac6.4043</text></g>
<line x1="316.40" y1="232.90" x2="318.80" y2="232.90" stroke="#222" stroke-width="0.8" />
<line x1="325.90" y1="232.90" x2="328.70" y2="232.90" stroke="#222" stroke-width="0.8" />
<line x1="327.30" y1="231.50" x2="327.30" y2="234.30" stroke="#222" stroke-width="0.8" />
<line x1="338.40" y1="232.90" x2="340.80" y2="232.90" stroke="#222" stroke-width="0.8" />
<line x1="349.50" y1="232.90" x2="352.30" y2="232.90" stroke="#222" stroke-width="0.8" />
<line x1="350.90" y1="231.50" x2="350.90" y2="234.30" stroke="#222" stroke-width="0.8" />
<line x1="360.80" y1="232.90" x2="363.20" y2="232.90" stroke="#222" stroke-width="0.8" />
<line x1="370.50" y1="232.90" x2="373.30" y2="232.90" stroke="#222" stroke-width="0.8" />
<line x1="371.90" y1="231.50" x2="371.90" y2="234.30" stroke="#222" stroke-width="0.8" />
<line x1="381.50" y1="232.90" x2="383.90" y2="232.90" stroke="#222" stroke-width="0.8" />
<line x1="391.70" y1="232.90" x2="394.50" y2="232.90" stroke="#222" stroke-width="0.8" />
<line x1="393.10" y1="231.50" x2="393.10" y2="234.30" stroke="#222" stroke-width="0.8" />
<line x1="402.30" y1="232.90" x2="404.70" y2="232.90" stroke="#222" stroke-width="0.8" />
<line x1="413.70" y1="232.90" x2="416.50" y2="232.90" stroke="#222" stroke-width="0.8" />
<line x1="415.10" y1="231.50" x2="415.10" y2="234.30" stroke="#222" stroke-width="0.8" />
<text x="429.80" y="236.70" font-size="7" fill="#111" font-weight="normal" font-style="normal" text-anchor="start"  textLength="40.9" lengthAdjust="spacingAndGlyphs">Doxycycline</text>
<defs>
<linearGradient id="g1" x1="0" y1="0" x2="0" y2="1"><stop offset="0" stop-color="#a9a9a9"/><stop offset="0.4" stop-color="#a0a0a0"/><stop offset="1" stop-color="#949494"/></linearGradient>
<linearGradient id="g2" x1="0" y1="0" x2="0" y2="1"><stop offset="0" stop-color="#d4d4d4"/><stop offset="0.45" stop-color="#c6c6c6"/><stop offset="1" stop-color="#b8b8b8"/></linearGradient>
<linearGradient id="g3" x1="0" y1="0" x2="0" y2="1"><stop offset="0" stop-color="#d8d8d8"/><stop offset="0.2" stop-color="#cfcfcf"/><stop offset="0.5" stop-color="#a8a8a8"/><stop offset="0.75" stop-color="#b4b4b4"/><stop offset="1" stop-color="#c8c8c8"/></linearGradient>
<linearGradient id="g4" x1="0" y1="0" x2="0" y2="1"><stop offset="0" stop-color="#c6c6c6"/><stop offset="0.6" stop-color="#bdbdbd"/><stop offset="1" stop-color="#c4c4c4"/></linearGradient>
<linearGradient id="g5" x1="0" y1="0" x2="0" y2="1"><stop offset="0" stop-color="#9c9c9c"/><stop offset="0.45" stop-color="#8e8e8e"/><stop offset="0.7" stop-color="#a8a8a8"/><stop offset="1" stop-color="#b4b4b4"/></linearGradient>
</defs>
<rect x="311.4" y="241.1" width="115.5" height="17.20" rx="0.8" fill="url(#g1)" stroke="#2a2a2a" stroke-width="1.1"/>
<text x="431.00" y="252.90" font-size="7.4" fill="#000" font-weight="normal" font-style="normal" text-anchor="start"  textLength="24" lengthAdjust="spacingAndGlyphs">HDAC1</text>
<text x="287.60" y="253.20" font-size="7.4" fill="#000" font-weight="normal" font-style="normal" text-anchor="start"  textLength="12.2" lengthAdjust="spacingAndGlyphs">p65</text>
<polygon points="302.8,247.4 308.5,250.2 302.8,253.0" fill="#000"/>
<rect x="311.4" y="261.8" width="115.5" height="11.90" rx="0.8" fill="url(#g2)" stroke="#2a2a2a" stroke-width="1.1"/>
<text x="431.00" y="270.95" font-size="7.4" fill="#000" font-weight="normal" font-style="normal" text-anchor="start"  textLength="24" lengthAdjust="spacingAndGlyphs">HDAC2</text>
<text x="287.60" y="271.25" font-size="7.4" fill="#000" font-weight="normal" font-style="normal" text-anchor="start"  textLength="12.2" lengthAdjust="spacingAndGlyphs">p55</text>
<polygon points="302.8,265.4 308.5,268.2 302.8,271.1" fill="#000"/>
<rect x="311.4" y="277.3" width="115.5" height="11.10" rx="0.8" fill="url(#g3)" stroke="#2a2a2a" stroke-width="1.1"/>
<text x="431.00" y="286.05" font-size="7.4" fill="#000" font-weight="normal" font-style="normal" text-anchor="start"  textLength="24" lengthAdjust="spacingAndGlyphs">HDAC3</text>
<text x="287.60" y="286.35" font-size="7.4" fill="#000" font-weight="normal" font-style="normal" text-anchor="start"  textLength="12.2" lengthAdjust="spacingAndGlyphs">p50</text>
<polygon points="302.8,280.6 308.5,283.4 302.8,286.2" fill="#000"/>
<rect x="311.4" y="291.4" width="115.5" height="12.40" rx="0.8" fill="url(#g4)" stroke="#2a2a2a" stroke-width="1.1"/>
<text x="431.00" y="300.80" font-size="7.4" fill="#000" font-weight="normal" font-style="normal" text-anchor="start"  textLength="32.5" lengthAdjust="spacingAndGlyphs">Ac tubulin</text>
<text x="287.60" y="301.10" font-size="7.4" fill="#000" font-weight="normal" font-style="normal" text-anchor="start"  textLength="12.2" lengthAdjust="spacingAndGlyphs">p54</text>
<polygon points="302.8,295.3 308.5,298.1 302.8,300.9" fill="#000"/>
<rect x="311.4" y="306.9" width="115.5" height="13.30" rx="0.8" fill="url(#g5)" stroke="#2a2a2a" stroke-width="1.1"/>
<text x="431.00" y="316.75" font-size="7.4" fill="#000" font-weight="normal" font-style="normal" text-anchor="start"  textLength="23.5" lengthAdjust="spacingAndGlyphs">β-actin</text>
<text x="287.60" y="317.05" font-size="7.4" fill="#000" font-weight="normal" font-style="normal" text-anchor="start"  textLength="12.2" lengthAdjust="spacingAndGlyphs">p43</text>
<polygon points="302.8,311.2 308.5,314.0 302.8,316.8" fill="#000"/>
<rect x="312.2" y="248.50" width="33.30000000000001" height="3.4" rx="1.13" fill="#101010" filter="url(#bl3)"/>
<rect x="346" y="249.50" width="10.5" height="2.0" rx="0.67" fill="#8c8c8c" filter="url(#bl3)"/>
<rect x="356.8" y="248.30" width="67.69999999999999" height="3.4" rx="1.13" fill="#101010" filter="url(#bl3)"/>
<rect x="312.2" y="266.65" width="11.300000000000011" height="2.9" rx="0.97" fill="#181818" filter="url(#bl3)"/>
<rect x="324.5" y="266.65" width="11.5" height="2.9" rx="0.97" fill="#1c1c1c" filter="url(#bl3)"/>
<rect x="336.3" y="266.65" width="10.699999999999989" height="2.9" rx="0.97" fill="#141414" filter="url(#bl3)"/>
<rect x="347.3" y="266.65" width="9.899999999999977" height="2.9" rx="0.97" fill="#1e1e1e" filter="url(#bl3)"/>
<rect x="358.3" y="266.65" width="9.199999999999989" height="2.9" rx="0.97" fill="#262626" filter="url(#bl3)"/>
<rect x="379.5" y="266.65" width="14.0" height="2.9" rx="0.97" fill="#181818" filter="url(#bl3)"/>
<rect x="393.8" y="266.65" width="15.699999999999989" height="2.9" rx="0.97" fill="#1c1c1c" filter="url(#bl3)"/>
<rect x="409.5" y="266.65" width="15.5" height="2.9" rx="0.97" fill="#141414" filter="url(#bl3)"/>
<rect x="312.2" y="280.20" width="79.80000000000001" height="2.8" rx="0.93" fill="#151515" filter="url(#bl3)"/>
<rect x="401.5" y="280.10" width="23.5" height="3.0" rx="1.00" fill="#151515" filter="url(#bl3)"/>
<rect x="313.3" y="297.15" width="6.699999999999989" height="2.1" rx="0.70" fill="#5a5a5a" filter="url(#bl3)"/>
<rect x="325.3" y="297.15" width="7.5" height="2.1" rx="0.70" fill="#4a4a4a" filter="url(#bl3)"/>
<rect x="335" y="297.15" width="8.300000000000011" height="2.1" rx="0.70" fill="#3a3a3a" filter="url(#bl3)"/>
<rect x="357.5" y="297.15" width="7.5" height="2.1" rx="0.70" fill="#4a4a4a" filter="url(#bl3)"/>
<rect x="367.5" y="297.15" width="10.300000000000011" height="2.1" rx="0.70" fill="#4a4a4a" filter="url(#bl3)"/>
<rect x="380.8" y="297.15" width="8.199999999999989" height="2.1" rx="0.70" fill="#4a4a4a" filter="url(#bl3)"/>
<rect x="391.7" y="297.15" width="6.300000000000011" height="2.1" rx="0.70" fill="#4e4e4e" filter="url(#bl3)"/>
<rect x="401.8" y="297.15" width="8.199999999999989" height="2.1" rx="0.70" fill="#3a3a3a" filter="url(#bl3)"/>
<rect x="413" y="297.15" width="9.800000000000011" height="2.1" rx="0.70" fill="#262626" filter="url(#bl3)"/>
<circle cx="331" cy="292.9" r="0.6" fill="#444"/>
<circle cx="346" cy="292.9" r="0.6" fill="#444"/>
<circle cx="351" cy="292.9" r="0.6" fill="#444"/>
<circle cx="374" cy="292.9" r="0.6" fill="#444"/>
<circle cx="384" cy="292.9" r="0.6" fill="#444"/>
<circle cx="407" cy="292.9" r="0.6" fill="#444"/>
<path d="M312.4,312.0 C325,311.4 335,312.6 350,312.0 C362,311.6 372,312.9 385,312.7 C398,312.6 410,312.0 423.5,311.8 L424,315.8 C412,317.0 400,317.3 388,317.2 C372,317.0 362,316.2 348,316.3 C335,316.4 322,316.8 312.4,316.2 Z" fill="#0e0e0e" filter="url(#bl3)"/>
</svg>
</body></html>
